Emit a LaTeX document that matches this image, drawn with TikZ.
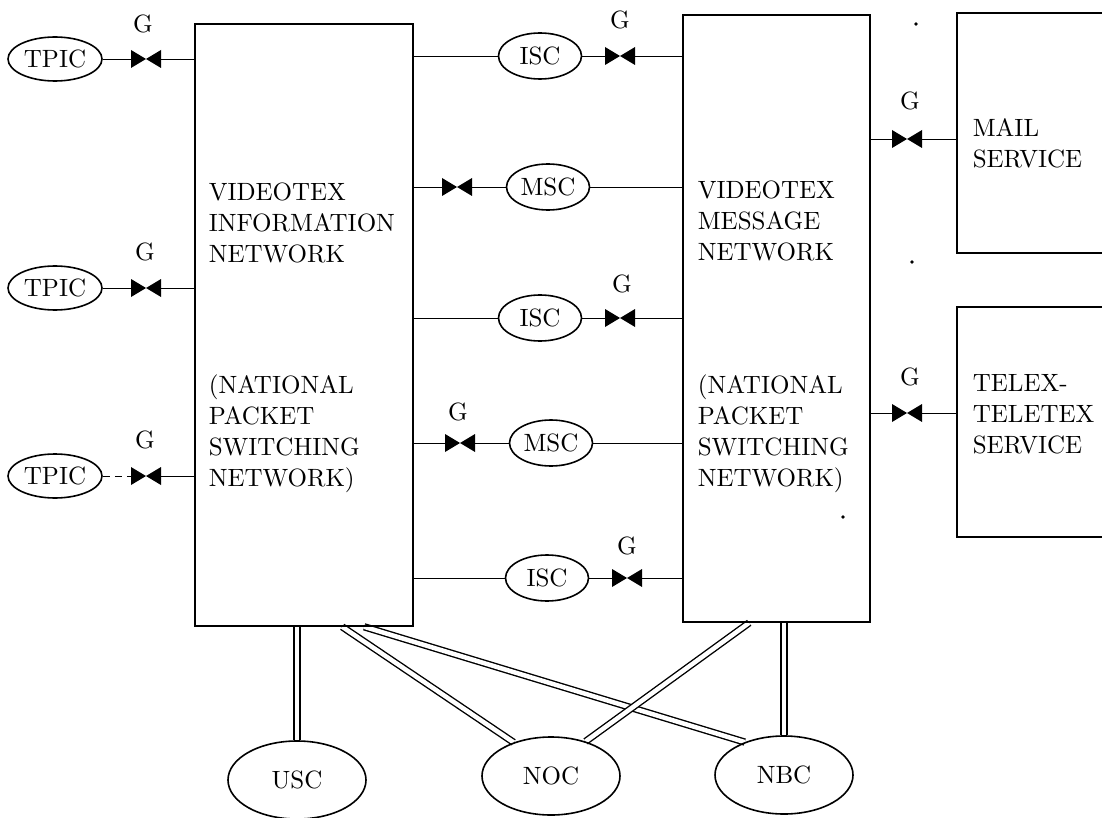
\documentclass[tikz,border=0pt]{standalone}
\usepackage{fontspec}
\setmainfont{lmroman10-regular.otf}
\usetikzlibrary{shapes.geometric,backgrounds}
\begin{document}
\begin{tikzpicture}[x=1pt,y=-1pt,line width=1.6pt,
  font=\fontsize{25}{31}\selectfont,
  netbox/.style={draw,rectangle,inner sep=0pt},
  oval/.style={draw,ellipse,inner sep=0pt},
  smalloval/.style={oval,minimum width=83pt,minimum height=46pt},
  bigoval/.style={oval,minimum width=138pt,minimum height=78pt},
  tpicoval/.style={oval,minimum width=94pt,minimum height=44pt},
  txt/.style={anchor=north west,align=left,inner sep=0pt},
  glabel/.style={inner sep=0pt},
  gate/.style={minimum width=30pt,minimum height=18pt,inner sep=0pt,outer sep=0pt},
  dbl/.style={double,double distance=4.5pt,line width=1.4pt},
  dashwire/.style={dash pattern=on 7pt off 5pt}]
\useasboundingbox (0,0) rectangle (1102,818);
\clip (0,0) rectangle (1102,818);

% big boxes
\node[netbox,minimum width=218pt,minimum height=602pt] (vin) at (304,325) {};
\node[netbox,minimum width=187pt,minimum height=607pt] (vmn) at (776.5,318.5) {};
\node[netbox,minimum width=163pt,minimum height=240pt] (mail) at (1038.5,133) {};
\node[netbox,minimum width=163pt,minimum height=230pt] (telex) at (1038.5,422) {};

% box texts
\node[txt] (vint1) at (208,182) {VIDEOTEX\\INFORMATION\\NETWORK};
\node[txt] (vint2) at (208,374) {(NATIONAL\\PACKET\\SWITCHING\\NETWORK)};
\node[txt] (vmnt1) at (697,180) {VIDEOTEX\\MESSAGE\\NETWORK};
\node[txt] (vmnt2) at (697,374) {(NATIONAL\\PACKET\\SWITCHING\\NETWORK)};
\node[txt] (mailt) at (972,118) {MAIL\\SERVICE};
\node[txt] (telt) at (972,374) {TELEX-\\TELETEX\\SERVICE};

% TPIC terminals
\node[tpicoval] (tpic1) at (55,59) {TPIC};
\node[tpicoval] (tpic2) at (55,288) {TPIC};
\node[tpicoval] (tpic3) at (55,476) {TPIC};
\node[gate] (gt1) at (146,59) {};
\node[gate] (gt2) at (146,288) {};
\node[gate] (gt3) at (146,476) {};
\node[glabel] (lt1) at (143,24) {G};
\node[glabel] (lt2) at (145,252) {G};
\node[glabel] (lt3) at (145,440) {G};

% middle centres
\node[smalloval] (isc1) at (540,56) {ISC};
\node[gate] (gi1) at (620,56) {};
\node[glabel] (li1) at (620,20) {G};
\node[gate] (gm1) at (457,187) {};
\node[smalloval] (msc1) at (548,187) {MSC};
\node[smalloval] (isc2) at (540,318) {ISC};
\node[gate] (gi2) at (620,318) {};
\node[glabel] (li2) at (622,284) {G};
\node[gate] (gm2) at (460,443) {};
\node[glabel] (lm2) at (458,412) {G};
\node[smalloval] (msc2) at (551,443) {MSC};
\node[smalloval] (isc3) at (547,578) {ISC};
\node[gate] (gi3) at (627,578) {};
\node[glabel] (li3) at (627,546) {G};

% right gates
\node[gate] (gma) at (907,139) {};
\node[glabel] (lma) at (910,101) {G};
\node[gate] (gte) at (907,413) {};
\node[glabel] (lte) at (910,377) {G};

% bottom centres
\node[bigoval] (usc) at (297,780) {USC};
\node[bigoval] (noc) at (551,776) {NOC};
\node[bigoval] (nbc) at (784,775) {NBC};

% gate symbols
\foreach \g in {gt1,gt2,gt3,gi1,gm1,gi2,gm2,gi3,gma,gte}{
  \fill (\g.north west) -- (\g.center) -- (\g.south west) -- cycle
        (\g.north east) -- (\g.center) -- (\g.south east) -- cycle;
}

% marks
\fill (916,24) circle (1.8);
\fill (912,262) circle (1.8);
\fill (843,517) circle (1.8);

\begin{pgfonlayer}{background}
% TPIC wires
\draw (tpic1) -- (gt1);
\draw (gt1) -- (gt1 -| vin.west);
\draw (tpic2) -- (gt2);
\draw (gt2) -- (gt2 -| vin.west);
\draw[dashwire] (tpic3) -- (gt3);
\draw (gt3) -- (gt3 -| vin.west);
% middle wires
\draw (isc1 -| vin.east) -- (isc1);
\draw (isc1) -- (gi1);
\draw (gi1) -- (gi1 -| vmn.west);
\draw (gm1 -| vin.east) -- (gm1);
\draw (gm1) -- (msc1);
\draw (msc1) -- (msc1 -| vmn.west);
\draw (isc2 -| vin.east) -- (isc2);
\draw (isc2) -- (gi2);
\draw (gi2) -- (gi2 -| vmn.west);
\draw (gm2 -| vin.east) -- (gm2);
\draw (gm2) -- (msc2);
\draw (msc2) -- (msc2 -| vmn.west);
\draw (isc3 -| vin.east) -- (isc3);
\draw (isc3) -- (gi3);
\draw (gi3) -- (gi3 -| vmn.west);
% right wires
\draw (gma -| vmn.east) -- (gma);
\draw (gma) -- (gma -| mail.west);
\draw (gte -| vmn.east) -- (gte);
\draw (gte) -- (gte -| telex.west);
% double links
\draw[dbl] (usc.north |- vin.south) -- (usc.north);
\draw[dbl] ([xshift=148pt]vin.south west) -- (noc.138);
\draw[dbl] ([xshift=170pt]vin.south west) -- (nbc.140);
\draw[dbl] ([xshift=67pt]vmn.south west) -- (noc.45);
\draw[dbl] (nbc.north |- vmn.south) -- (nbc.north);
\end{pgfonlayer}
\end{tikzpicture}
\end{document}
